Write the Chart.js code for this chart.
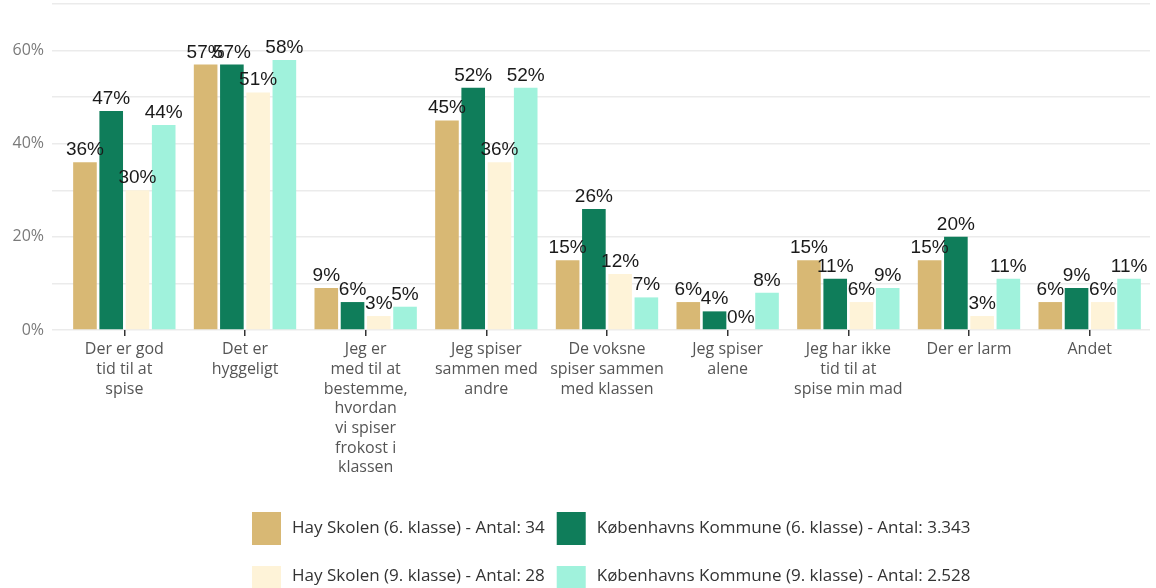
<!DOCTYPE html>
<html>
<head>
<meta charset="utf-8">
<script src="https://cdn.jsdelivr.net/npm/chart.js@4.4.1/dist/chart.umd.min.js"></script>
<style>
  html, body { margin: 0; padding: 0; background: #ffffff; }
  #wrap { width: 1156px; height: 588px; position: relative; overflow: hidden; }
</style>
</head>
<body>
<div id="wrap"><canvas id="chart" width="1156" height="588"></canvas></div>
<script>
// Answer categories (multi-line labels)
const categories = [
  ["Der er god", "tid til at", "spise"],
  ["Det er", "hyggeligt"],
  ["Jeg er", "med til at", "bestemme,", "hvordan", "vi spiser", "frokost i", "klassen"],
  ["Jeg spiser", "sammen med", "andre"],
  ["De voksne", "spiser sammen", "med klassen"],
  ["Jeg spiser", "alene"],
  ["Jeg har ikke", "tid til at", "spise min mad"],
  ["Der er larm"],
  ["Andet"]
];

// Share of pupils (%) per group
const hay6 = [36, 57, 9, 45, 15, 6, 15, 15, 6];
const kbh6 = [47, 57, 6, 52, 26, 4, 11, 20, 9];
const hay9 = [30, 51, 3, 36, 12, 0, 6, 3, 6];
const kbh9 = [44, 58, 5, 52, 7, 8, 9, 11, 11];

const seriesNames = [
  "Hay Skolen (6. klasse) - Antal: 34",
  "Københavns Kommune (6. klasse) - Antal: 3.343",
  "Hay Skolen (9. klasse) - Antal: 28",
  "Københavns Kommune (9. klasse) - Antal: 2.528"
];
const seriesColors = ["#D8B874", "#0F7D5A", "#FEF3D8", "#A0F2DC"];
const seriesValues = [hay6, kbh6, hay9, kbh9];

// y-axis: 0–70 %, gridline every 10, label every 20
const yMin = 0, yMax = 70, yStep = 10, yLabelEvery = 20;

const AXIS_FONT = "'Open Sans', Lato, sans-serif";
const VALUE_FONT = "'Liberation Sans', Arial, sans-serif";

// Percentage labels above each bar
const valueLabels = {
  id: "valueLabels",
  afterDatasetsDraw(chart) {
    const ctx = chart.ctx;
    ctx.save();
    ctx.font = "19px " + VALUE_FONT;
    ctx.fillStyle = "#1a1a1a";
    ctx.textAlign = "center";
    ctx.textBaseline = "alphabetic";
    chart.data.datasets.forEach((ds, i) => {
      const meta = chart.getDatasetMeta(i);
      meta.data.forEach((bar, j) => {
        ctx.fillText(ds.data[j] + "%", bar.x, bar.y - 7);
      });
    });
    ctx.restore();
  }
};

// Two-column legend under the chart
const gridLegend = {
  id: "gridLegend",
  afterDraw(chart) {
    const ctx = chart.ctx;
    const ds = chart.data.datasets;
    ctx.save();
    ctx.font = "17px " + AXIS_FONT;
    ctx.textBaseline = "middle";
    ctx.textAlign = "left";
    const boxW = 29, boxH = 33, boxGap = 11, colGap = 12, rowH = 48;
    const left = 252, firstTop = 512;
    const col1W = Math.max(ctx.measureText(ds[0].label).width, ctx.measureText(ds[2].label).width);
    const colX = [left, left + boxW + boxGap + col1W + colGap];
    ds.forEach((d, i) => {
      const col = i % 2, row = Math.floor(i / 2);
      const x = colX[col], y = firstTop + row * rowH;
      ctx.fillStyle = d.backgroundColor;
      ctx.fillRect(x, y + (row ? 6 : 0), boxW, boxH);
      ctx.fillStyle = "#333333";
      ctx.fillText(d.label, x + boxW + boxGap, y + boxH / 2);
    });
    ctx.restore();
  }
};

new Chart(document.getElementById("chart"), {
  type: "bar",
  data: {
    labels: categories,
    datasets: seriesValues.map((vals, i) => ({
      label: seriesNames[i],
      data: vals,
      backgroundColor: seriesColors[i],
      borderWidth: 0,
      categoryPercentage: 0.87,
      barPercentage: 0.9
    }))
  },
  options: {
    responsive: false,
    devicePixelRatio: 1,
    animation: false,
    layout: { padding: { top: 4, right: 6, bottom: 0, left: 0 } },
    plugins: {
      legend: { display: false },
      tooltip: { enabled: false }
    },
    scales: {
      y: {
        min: yMin,
        max: yMax,
        afterFit(scale) { scale.width = 64; scale.paddingTop = 0; scale.paddingBottom = 0; },
        border: { display: false },
        grid: { color: "#ebebeb", lineWidth: 1.5, tickLength: 12, drawTicks: true },
        ticks: {
          stepSize: yStep,
          padding: 8,
          color: "#7a7a7a",
          font: { family: AXIS_FONT, size: 16 },
          callback: (v) => (v % yLabelEvery === 0 ? v + "%" : "")
        }
      },
      x: {
        afterFit(scale) { scale.height = 588 - 330; scale.paddingLeft = 0; scale.paddingRight = 0; },
        border: { display: false },
        grid: { drawOnChartArea: false, drawTicks: true, offset: false, tickLength: 6, color: "#333333", lineWidth: 1.5 },
        ticks: {
          autoSkip: false,
          maxRotation: 0,
          padding: 4,
          color: "#555555",
          font: { family: AXIS_FONT, size: 16, lineHeight: 1.23 }
        }
      }
    }
  },
  plugins: [valueLabels, gridLegend]
});
</script>
</body>
</html>
